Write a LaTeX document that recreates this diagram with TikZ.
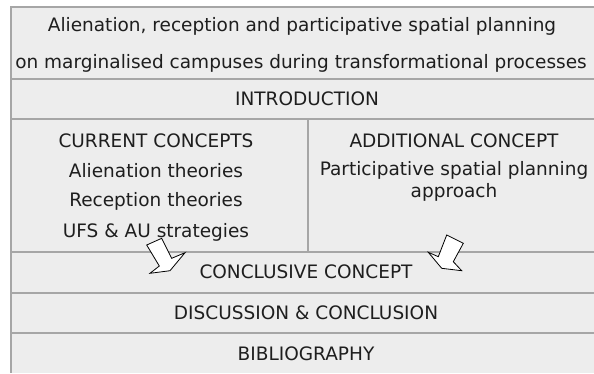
\documentclass[tikz,border=0pt]{standalone}
\usepackage{fontspec}
\setmainfont{DejaVu Sans}
\usepackage{tikz}
\definecolor{cellgray}{HTML}{EDEDED}
\definecolor{rulegray}{HTML}{A6A6A6}
\definecolor{inkgray}{HTML}{1E1E1E}
\tikzset{
  lbl/.style={font=\fontsize{18.5}{22}\selectfont,text=inkgray,inner sep=0pt},
  rulel/.style={rulegray,line width=1.2pt},
  blockarrow/.style={draw=black,fill=white,line width=0.8pt,line join=miter}
}

\begin{document}
\begin{tikzpicture}[x=1pt,y=-1pt]
\useasboundingbox(0,0)rectangle(594,373);
\fill[white](0,0)rectangle(594,373);
\fill[cellgray](11,7)rectangle(594,373);
%frame and rows
\draw[rulel](594,7)--(11,7)--(11,373);
\draw[rulel](11,79)--(594,79);
\draw[rulel](11,119)--(594,119);
\draw[rulel](308,119)--(308,252);
\draw[rulel](11,252)--(594,252);
\draw[rulel](11,293)--(594,293);
\draw[rulel](11,333)--(594,333);
%labels
\node[lbl](title1)at(302,26){Alienation, reception and participative spatial planning};
\node[lbl](title2)at(301,63){on marginalised campuses during transformational processes};
\node[lbl](intro)at(307,99){INTRODUCTION};
\node[lbl](current)at(156,141){CURRENT CONCEPTS};
\node[lbl](alien)at(156,171){Alienation theories};
\node[lbl](recep)at(156,201){Reception theories};
\node[lbl](ufs)at(156,232){UFS \& AU strategies};
\node[lbl](additional)at(454,141){ADDITIONAL CONCEPT};
\node[lbl](particip)at(454,170){Participative spatial planning};
\node[lbl](approach)at(454,192){approach};
\node[lbl](conclusive)at(306,272){CONCLUSIVE CONCEPT};
\node[lbl](discussion)at(306,313){DISCUSSION \& CONCLUSION};
\node[lbl](biblio)at(306,354){BIBLIOGRAPHY};
%block arrows
\draw[blockarrow](146.7,245)--(161.7,238.3)--(171.7,258.3)--(185,252.7)--(170,270.7)--(150,273.3)--(159.3,266)--cycle;
\draw[blockarrow](446.7,235)--(463.3,243.3)--(453.3,261.7)--(461.7,270.7)--(441.7,268.3)--(428.3,252.3)--(438.3,256.7)--cycle;
\end{tikzpicture}
\end{document}
